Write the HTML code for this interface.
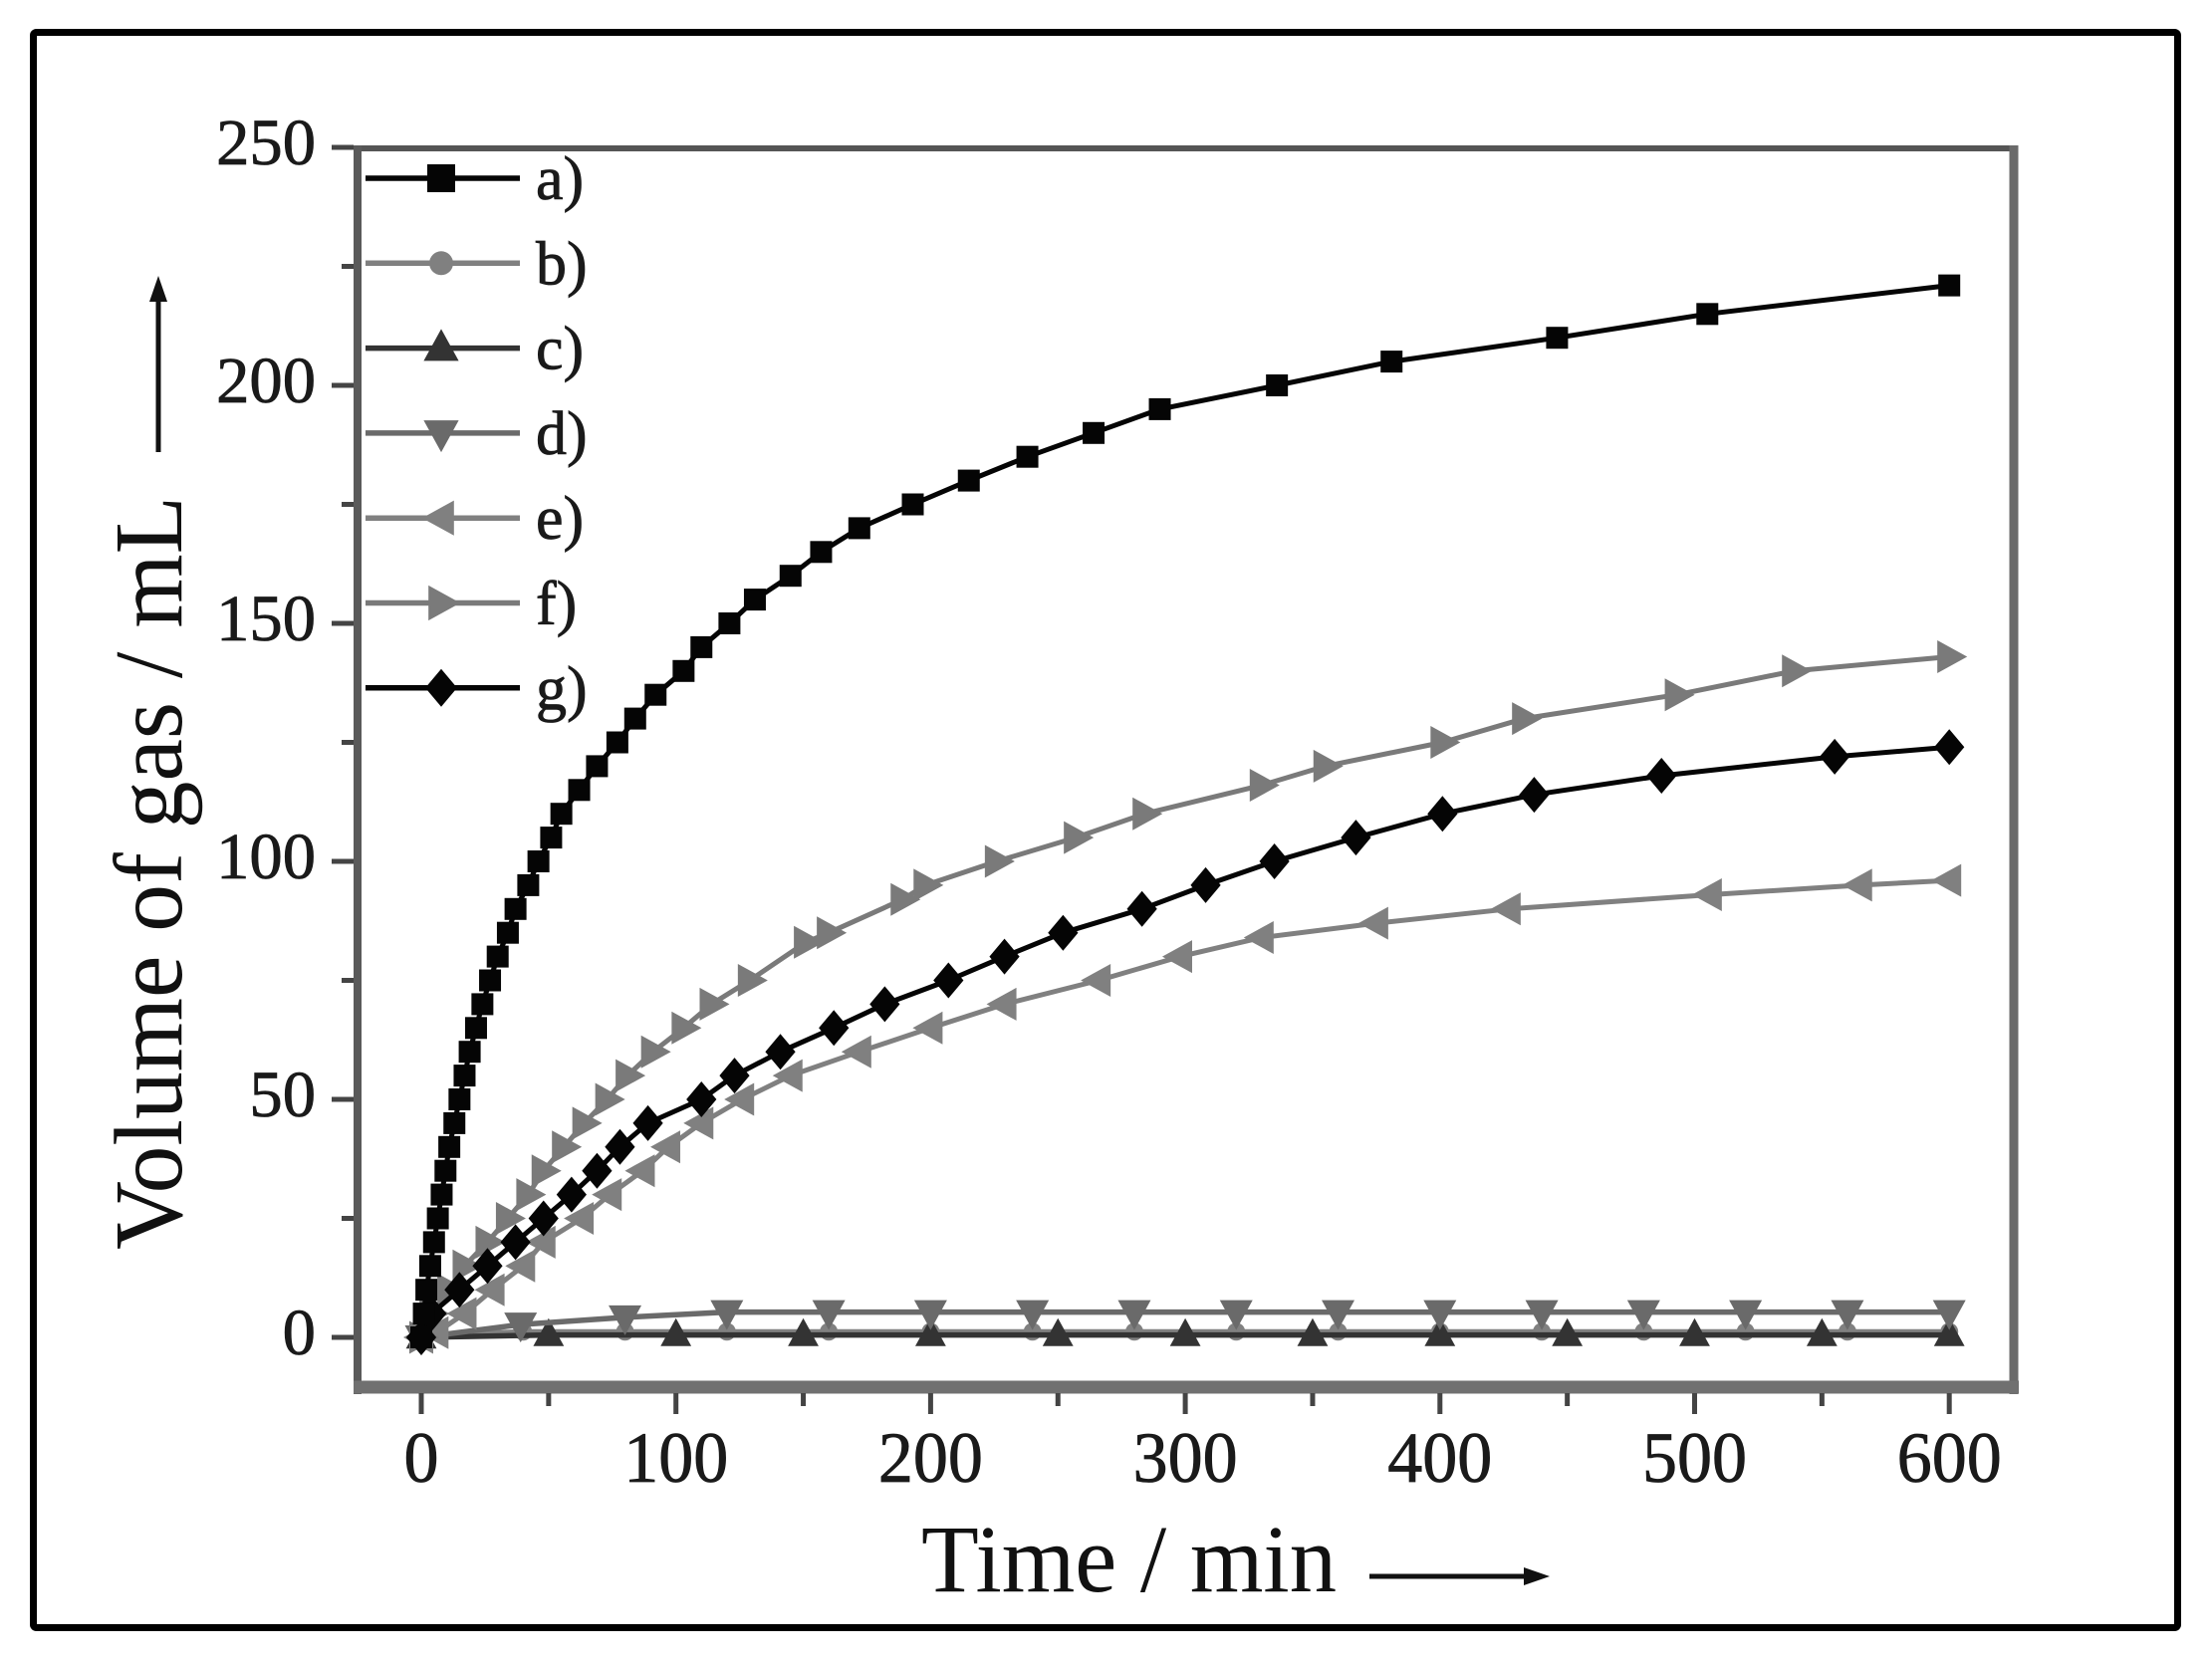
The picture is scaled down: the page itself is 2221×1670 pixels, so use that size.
<!DOCTYPE html>
<html><head><meta charset="utf-8"><style>
html,body{margin:0;padding:0;background:#fff;}
svg{display:block;}
text{font-family:"Liberation Serif",serif;}
</style></head><body>
<svg id="s" width="2221" height="1670" viewBox="0 0 2221 1670" xmlns="http://www.w3.org/2000/svg">
<rect x="0" y="0" width="2221" height="1670" fill="#fff"/>
<rect x="33.5" y="32.5" width="2153" height="1602" fill="none" stroke="#000" stroke-width="7" rx="3"/>
<g id="plot"></g>
<line x1="359" y1="149" x2="2023" y2="149" stroke="#555" stroke-width="6"/>
<line x1="2022" y1="146" x2="2022" y2="1400" stroke="#6a6a6a" stroke-width="9"/>
<line x1="359" y1="146" x2="359" y2="1400" stroke="#5a5a5a" stroke-width="8"/>
<line x1="355" y1="1393" x2="2027" y2="1393" stroke="#707070" stroke-width="13"/>
<g id="ticks" stroke="#444" stroke-width="5"></g>
<g id="labels" fill="#1a1a1a" font-size="70" stroke="#1a1a1a" stroke-width="0.8"></g>
<text x="925" y="1598" font-size="96" textLength="417" lengthAdjust="spacingAndGlyphs" fill="#111">Time / min</text>
<line x1="1375" y1="1583" x2="1535" y2="1583" stroke="#111" stroke-width="5"/>
<polygon points="1556,1583 1530,1574 1530,1592" fill="#111"/>
<text transform="translate(182,1255) rotate(-90)" font-size="98" textLength="757" lengthAdjust="spacingAndGlyphs" fill="#111">Volume of gas / mL</text>
<line x1="159" y1="454" x2="159" y2="298" stroke="#111" stroke-width="5"/>
<polygon points="159,277 150,303 168,303" fill="#111"/>
</svg>
<script>
const NS="http://www.w3.org/2000/svg";
const X=t=>423+2.557*t, Y=v=>1343-4.78*v;
const plot=document.getElementById('plot');
function el(n,a,p){const e=document.createElementNS(NS,n);for(const k in a)e.setAttribute(k,a[k]);(p||plot).appendChild(e);return e;}
function marker(type,x,y,c,s){
 if(type=='sq') el('rect',{x:x-s/2,y:y-s/2,width:s,height:s,fill:c});
 else if(type=='ci') el('circle',{cx:x,cy:y,r:s/2,fill:c});
 else if(type=='up') el('polygon',{points:`${x},${y-s*0.6} ${x-s*0.55},${y+s*0.4} ${x+s*0.55},${y+s*0.4}`,fill:c});
 else if(type=='dn') el('polygon',{points:`${x},${y+s*0.6} ${x-s*0.55},${y-s*0.4} ${x+s*0.55},${y-s*0.4}`,fill:c});
 else if(type=='lt') el('polygon',{points:`${x-s*0.6},${y} ${x+s*0.4},${y-s*0.55} ${x+s*0.4},${y+s*0.55}`,fill:c});
 else if(type=='rt') el('polygon',{points:`${x+s*0.6},${y} ${x-s*0.4},${y-s*0.55} ${x-s*0.4},${y+s*0.55}`,fill:c});
 else if(type=='di') el('polygon',{points:`${x},${y-s/2} ${x+s*0.42},${y} ${x},${y+s/2} ${x-s*0.42},${y}`,fill:c});
}
const A=[[0,0],[1,5],[2,10],[3.5,15],[5,20],[6.5,25],[8,30],[9.5,35],[11,40],[13,45],[15,50],[17,55],[19,60],[21.5,65],[24,70],[27,75],[30,80],[34,85],[37,90],[42,95],[46,100],[51,105],[55,110],[62,115],[69,120],[77,125],[84,130],[92,135],[103,140],[110,145],[121,150],[131,155],[145,160],[157,165],[172,170],[193,175],[215,180],[238,185],[264,190],[290,195],[336,200],[381,205],[446,210],[505,215],[600,221]];
const F=[[0,0],[4,5],[11,10],[17,15],[26,20],[34,25],[42,30],[48,35],[56,40],[64,45],[73,50],[81,55],[91,60],[103,65],[114,70],[129,75],[151,83],[160,85],[189,92],[198,95],[226,100],[257,105],[284,110],[330,116],[355,120],[401,125],[433,130],[493,135],[539,140],[600,143]];
const G=[[0,0],[4,5],[15,10],[26,15],[37,20],[48,25],[59,30],[69,35],[78,40],[89,45],[110,50],[123,55],[141,60],[162,65],[182,70],[207,75],[229,80],[252,85],[283,90],[308,95],[335,100],[367,105],[401,110],[437,114],[487,118],[555,122],[600,124]];
const E=[[0,0],[6,1],[17,5],[28,10],[40,15],[48,20],[63,25],[74,30],[87,35],[97,40],[110,45],[126,50],[145,55],[172,60],[200,65],[229,70],[266,75],[298,80],[330,84],[375,87],[427,90],[506,93],[565,95],[600,96]];
const B=[[0,0.5]];for(let t=40;t<=600;t+=40)B.push([t,1.2]);
const C=[[0,0]];for(let t=50;t<=600;t+=50)C.push([t,0.5]);
const D=[[0,0],[39,2.7],[80,4.2]];for(let t=120;t<=600;t+=40)D.push([t,5.3]);
const series=[
 [B,'ci','#808080',18,5],
 [C,'up','#333',28,5.5],
 [D,'dn','#6a6a6a',30,5.5],
 [E,'lt','#808080',30,5],
 [F,'rt','#7a7a7a',30,5],
 [G,'di','#050505',36,5],
 [A,'sq','#050505',22,5]];
for(const [d,m,c,s,w] of series){
 el('polyline',{points:d.map(p=>X(p[0])+','+Y(p[1])).join(' '),fill:'none',stroke:c,'stroke-width':w,'stroke-linejoin':'round'});
 for(const p of d) marker(m,X(p[0]),Y(p[1]),c,s);
}
const leg=[['a)','sq','#050505',28],['b)','ci','#808080',24],['c)','up','#333',32],['d)','dn','#6a6a6a',32],['e)','lt','#808080',32],['f)','rt','#7a7a7a',32],['g)','di','#050505',38]];
leg.forEach((l,i)=>{const y=179+85.3*i;
 el('line',{x1:367,y1:y,x2:522,y2:y,stroke:l[2],'stroke-width':5.5});
 marker(l[1],443,y,l[2],l[3]);
 const t=el('text',{x:538,y:y+21,'font-size':62,fill:'#1a1a1a',stroke:'#1a1a1a','stroke-width':0.8});t.textContent=l[0];
});
const tk=document.getElementById('ticks'), lb=document.getElementById('labels');
for(let t=0;t<=600;t+=50){const x=X(t);el('line',{x1:x,y1:1399,x2:x,y2:t%100==0?1420:1412},tk);
 if(t%100==0){const s=String(t);const e=el('text',{x:x,y:1488,'text-anchor':'middle','font-size':72,textLength:35*s.length,lengthAdjust:'spacingAndGlyphs'},lb);e.textContent=s;}}
for(let v=0;v<=250;v+=25){const y=Y(v);el('line',{x1:355,y1:y,x2:v%50==0?333:343,y2:y},tk);
 if(v%50==0){const s=String(v);const e=el('text',{x:317,y:y+17,'text-anchor':'end','font-size':66,textLength:33.3*s.length,lengthAdjust:'spacingAndGlyphs'},lb);e.textContent=s;}}
</script>
</body></html>
